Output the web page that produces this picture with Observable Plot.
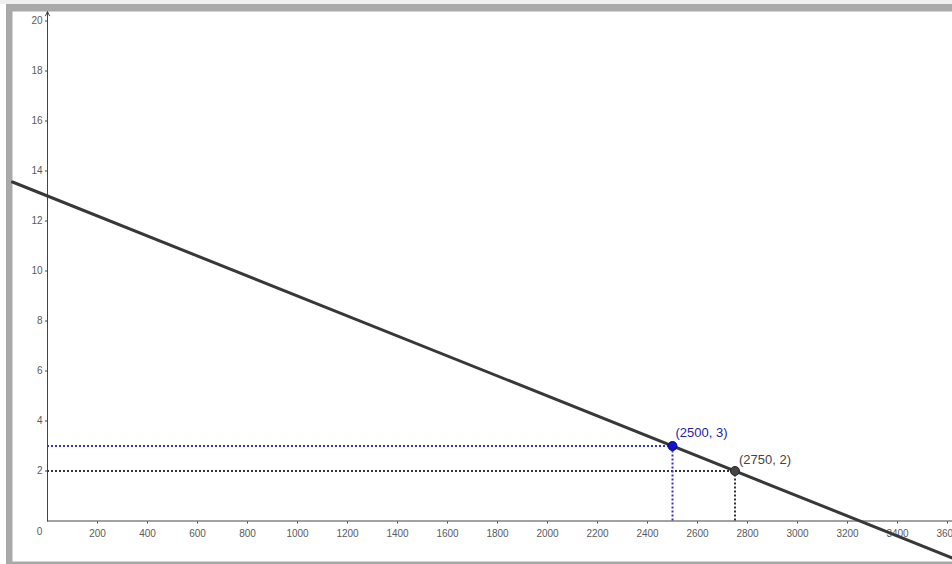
<!DOCTYPE html>
<html>
<head>
<meta charset="utf-8">
<script src="https://cdn.jsdelivr.net/npm/d3@7"></script>
<script src="https://cdn.jsdelivr.net/npm/@observablehq/plot@0.6"></script>
<style>
  html, body { margin: 0; padding: 0; }
  body { width: 952px; height: 564px; overflow: hidden;
         background: linear-gradient(#efefef 0 4px, #ffffff 4px); }
  #chart { position: absolute; left: 6px; top: 4px; }
  #chart svg { background: #a9a9a9; display: block; }
</style>
</head>
<body>
<div id="chart"></div>
<script>
// Points on the line
const pointLabels = ["(2500, 3)", "(2750, 2)"];
const pointX = [2500, 2750];
const pointY = [3, 2];
const pointColors = ["#1414c8", "#444444"];
const pointStrokes = ["#000080", "#222222"];
const labelColors = ["#2424a0", "#444444"];
const guideColors = ["#3434c8", "#333333"];

// Axis ticks
const xTicks = [200, 400, 600, 800, 1000, 1200, 1400, 1600, 1800, 2000, 2200, 2400, 2600, 2800, 3000, 3200, 3400, 3600];
const yTicks = [2, 4, 6, 8, 10, 12, 14, 16, 18, 20];

// Visible window
const xDomain = [-140, 3620];
const yDomain = [-1.62, 20.38];

const W = 946, H = 560;
const mL = 6, mR = 0, mT = 7, mB = 3;

const pts = pointX.map((x, i) => ({x, y: pointY[i], label: pointLabels[i], fill: pointColors[i], stroke: pointStrokes[i], lc: labelColors[i], gc: guideColors[i]}));

// Line through the two points, extended across the view
const slope = (pointY[1] - pointY[0]) / (pointX[1] - pointX[0]);
const f = x => pointY[0] + slope * (x - pointX[0]);
const lineData = xDomain.map(x => ({x, y: f(x)}));

// pixel position of the origin for axis placement
const ys = d3.scaleLinear(yDomain, [H - mB, mT]);
const xs = d3.scaleLinear(xDomain, [mL, W - mR]);
const y0px = ys(0), x0px = xs(0);

const font = "'Liberation Sans', Arial, sans-serif";

const chart = Plot.plot({
  width: W, height: H,
  marginLeft: mL, marginRight: mR, marginTop: mT, marginBottom: mB,
  x: {domain: xDomain, label: null},
  y: {domain: yDomain, label: null},
  style: {fontFamily: font, fontSize: "10px", color: "#555", background: "#a9a9a9"},
  marks: [
    Plot.frame({fill: "white", stroke: null}),
    // axes lines
    Plot.ruleY([0], {x1: 0, x2: xDomain[1], stroke: "#444", strokeWidth: 1}),
    Plot.arrow([0], {x1: 0, x2: 0, y1: 0, y2: yDomain[1], stroke: "#444", strokeWidth: 1, headLength: 7, headAngle: 50}),
    // tick labels
    Plot.axisX({anchor: "bottom", label: null, ticks: xTicks, tickSize: 2, tickPadding: 6, dy: y0px - (H - mB) + 1, tickFormat: d => String(d), stroke: "#444", fill: "#5a5a5a", fontSize: 10}),
    Plot.axisY({anchor: "left", label: null, ticks: yTicks, tickSize: 2, tickPadding: 3, dx: x0px - mL, tickFormat: d => String(d), stroke: "#444", fill: "#5a5a5a", fontSize: 10}),
    Plot.text([0], {x: 0, y: 0, text: d => String(d), dx: -8, dy: 10.5, fill: "#5a5a5a", fontSize: 10}),
    // guide lines
    Plot.ruleY(pts, {y: "y", x1: 0, x2: "x", stroke: d => d.gc, strokeWidth: 2, strokeDasharray: "2,2"}),
    Plot.ruleX(pts, {x: "x", y1: 0, y2: "y", stroke: d => d.gc, strokeWidth: 2, strokeDasharray: "2,2"}),
    // main line
    Plot.line(lineData, {x: "x", y: "y", stroke: "#383838", strokeWidth: 3}),
    // points
    Plot.dot(pts, {x: "x", y: "y", r: 4.5, fill: d => d.fill, stroke: d => d.stroke, strokeWidth: 1}),
    Plot.text([pts[0]], {x: "x", y: "y", text: "label", fill: d => d.lc, fontSize: 13, textAnchor: "start", dx: 3, dy: -13}),
    Plot.text([pts[1]], {x: "x", y: "y", text: "label", fill: d => d.lc, fontSize: 13, textAnchor: "start", dx: 4, dy: -11})
  ]
});
document.getElementById("chart").appendChild(chart);
</script>
</body>
</html>
